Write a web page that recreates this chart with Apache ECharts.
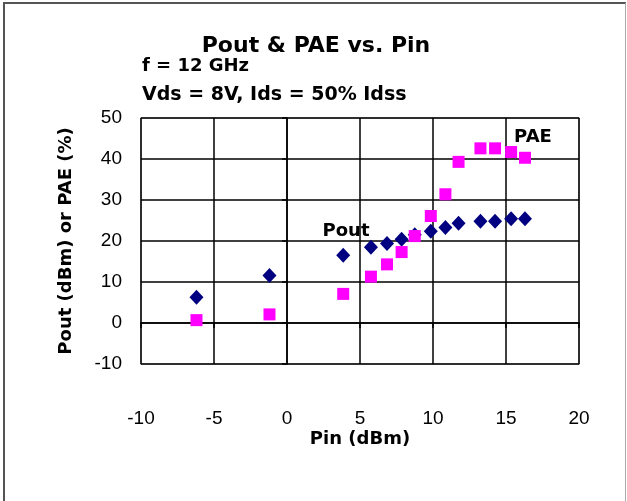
<!DOCTYPE html>
<html>
<head>
<meta charset="utf-8">
<script src="https://cdn.jsdelivr.net/npm/echarts@6/dist/echarts.min.js"></script>
<style>html,body{margin:0;padding:0;background:#fff;}#c{width:627px;height:501px;}</style>
</head>
<body>
<div id="c"></div>
<script>
const pin  = [-6.2, -1.2, 3.85, 5.75, 6.85, 7.85, 8.75, 9.85, 10.85, 11.75, 13.25, 14.25, 15.35, 16.3];
const pout = [6.3, 11.6, 16.5, 18.5, 19.4, 20.4, 21.5, 22.4, 23.3, 24.3, 24.8, 24.8, 25.4, 25.4];
const pae  = [0.7, 2.1, 7.1, 11.3, 14.3, 17.3, 21.2, 26.1, 31.4, 39.3, 42.6, 42.6, 41.7, 40.3];
const titleText = 'Pout & PAE vs. Pin';
const sub1 = 'f = 12 GHz';
const sub2 = 'Vds = 8V, Ids = 50% Idss';
const xName = 'Pin (dBm)';
const yName = 'Pout (dBm) or PAE (%)';

const chart = echarts.init(document.getElementById('c'), null, {renderer: 'canvas'});
const bold = 'DejaVu Sans';
const tickFont = {fontFamily: 'Liberation Sans', fontSize: 19, color: '#000'};
const option = {
  animation: false,
  backgroundColor: '#fff',
  grid: {left: 141, right: 48, top: 118, bottom: 137, show: true, borderColor: '#a0a0a0', borderWidth: 1.5, backgroundColor: '#fff'},
  xAxis: [
    {type: 'value', min: -10, max: 20, interval: 5, position: 'bottom',
     axisLine: {show: false, onZero: false}, axisTick: {show: false},
     axisLabel: Object.assign({margin: 45}, tickFont),
     splitLine: {show: true, lineStyle: {color: '#000', width: 1.5}},
     name: xName, nameLocation: 'middle', nameGap: 66,
     nameTextStyle: {fontFamily: bold, fontWeight: 'bold', fontSize: 18, color: '#000'}},
    {type: 'value', min: -10, max: 20, interval: 5, position: 'top',
     axisLine: {show: true, onZero: true, onZeroAxisIndex: 0, lineStyle: {color: '#000', width: 1.5}},
     axisTick: {show: true, inside: true, length: 5, lineStyle: {color: '#000', width: 1.5}},
     axisLabel: {show: false}, splitLine: {show: false}}
  ],
  yAxis: [
    {type: 'value', min: -10, max: 50, interval: 10, position: 'left',
     axisLine: {show: false, onZero: false}, axisTick: {show: false},
     axisLabel: Object.assign({margin: 19}, tickFont),
     splitLine: {show: true, lineStyle: {color: '#000', width: 1.5}},
     name: yName, nameLocation: 'middle', nameGap: 66, nameRotate: 90,
     nameTextStyle: {fontFamily: bold, fontWeight: 'bold', fontSize: 18, color: '#000'}},
    {type: 'value', min: -10, max: 50, interval: 10, position: 'right',
     axisLine: {show: true, onZero: true, onZeroAxisIndex: 0, lineStyle: {color: '#000', width: 1.5}},
     axisTick: {show: true, inside: true, length: 5, lineStyle: {color: '#000', width: 1.5}},
     axisLabel: {show: false}, splitLine: {show: false}}
  ],
  series: [
    {name: 'Pout', type: 'scatter', xAxisIndex: 0, yAxisIndex: 0, symbol: 'diamond', symbolSize: [14, 15],
     itemStyle: {color: '#000080', opacity: 1}, emphasis: {disabled: true},
     data: pin.map((x, i) => [x, pout[i]]), z: 3},
    {name: 'PAE', type: 'scatter', xAxisIndex: 0, yAxisIndex: 0, symbol: 'rect', symbolSize: 12,
     itemStyle: {color: '#ff00ff', opacity: 1}, emphasis: {disabled: true},
     data: pin.map((x, i) => [x, pae[i]]), z: 4}
  ],
  graphic: [
    {type: 'line', shape: {x1: 4, y1: 3, x2: 4, y2: 501}, style: {stroke: '#555', lineWidth: 2}, z: 100},
    {type: 'line', shape: {x1: 3, y1: 3, x2: 626, y2: 3}, style: {stroke: '#555', lineWidth: 2}, z: 100},
    {type: 'line', shape: {x1: 625.5, y1: 3, x2: 625.5, y2: 501}, style: {stroke: '#aaa', lineWidth: 1}, z: 100},
    {type: 'text', x: 316, y: 46, style: {text: titleText, font: 'bold 22px "DejaVu Sans"', fill: '#000', textAlign: 'center', textVerticalAlign: 'middle'}, z: 100},
    {type: 'text', x: 142, y: 66, style: {text: sub1, font: 'bold 18px "DejaVu Sans"', fill: '#000', textAlign: 'left', textVerticalAlign: 'middle'}, z: 100},
    {type: 'text', x: 142, y: 95, style: {text: sub2, font: 'bold 19px "DejaVu Sans"', fill: '#000', textAlign: 'left', textVerticalAlign: 'middle'}, z: 100},
    {type: 'text', x: 346, y: 231, style: {text: 'Pout', font: 'bold 18px "DejaVu Sans"', fill: '#000', textAlign: 'center', textVerticalAlign: 'middle'}, z: 100},
    {type: 'text', x: 533, y: 137, style: {text: 'PAE', font: 'bold 18px "DejaVu Sans"', fill: '#000', textAlign: 'center', textVerticalAlign: 'middle'}, z: 100}
  ]
};
chart.setOption(option);
</script>
</body>
</html>
